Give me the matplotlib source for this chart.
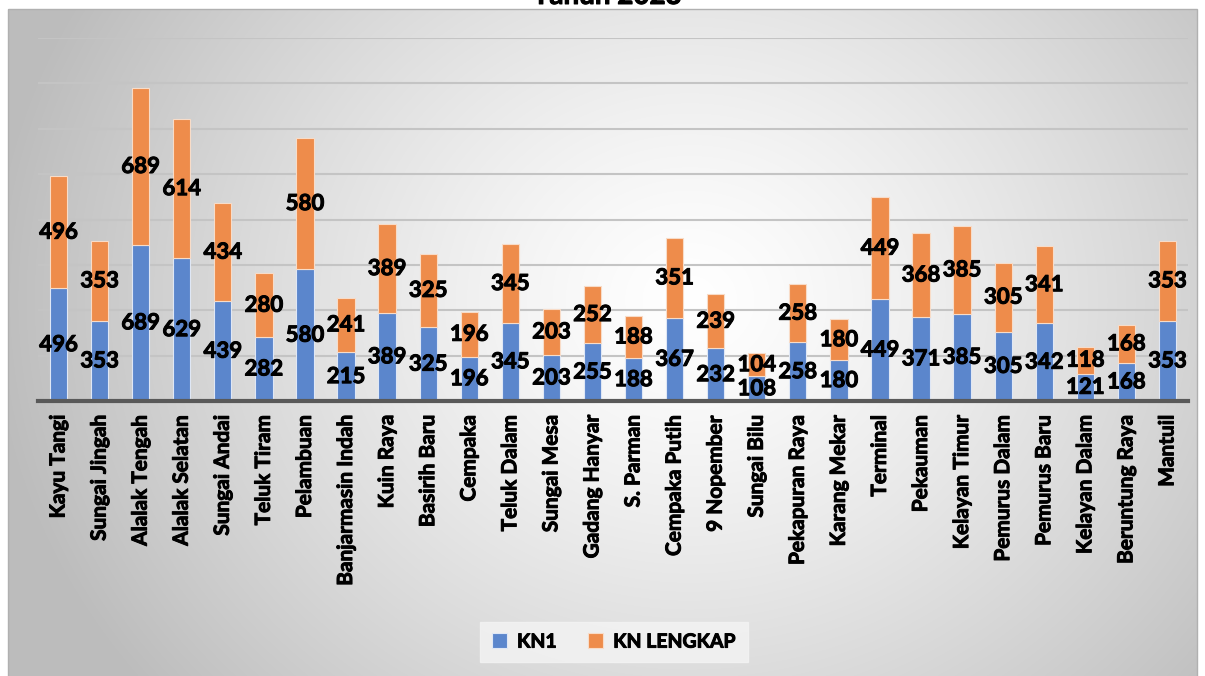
"""
Stacked bar chart: KN1 vs KN LENGKAP per kelurahan, Tahun 2023.
Excel-style look: radial grey gradient panel, labels centred in each segment.
"""

import matplotlib
matplotlib.use("Agg")
import matplotlib.pyplot as plt
import matplotlib.patheffects as pe
import numpy as np
from matplotlib.patches import Rectangle

# -----------------------------------------------------------------------------
# Data
# -----------------------------------------------------------------------------
wilayah = [
    "Kayu Tangi", "Sungai Jingah", "Alalak Tengah", "Alalak Selatan",
    "Sungai Andai", "Teluk Tiram", "Pelambuan", "Banjarmasin Indah",
    "Kuin Raya", "Basirih Baru", "Cempaka", "Teluk Dalam", "Sungai Mesa",
    "Gadang Hanyar", "S. Parman", "Cempaka Putih", "9 Nopember",
    "Sungai Bilu", "Pekapuran Raya", "Karang Mekar", "Terminal",
    "Pekauman", "Kelayan Timur", "Pemurus Dalam", "Pemurus Baru",
    "Kelayan Dalam", "Beruntung Raya", "Mantuil",
]
kn1 = [496, 353, 689, 629, 439, 282, 580, 215, 389, 325, 196, 345, 203,
       255, 188, 367, 232, 108, 258, 180, 449, 371, 385, 305, 342, 121,
       168, 353]
kn_lengkap = [496, 353, 689, 614, 434, 280, 580, 241, 389, 325, 196, 345,
              203, 252, 188, 351, 239, 104, 258, 180, 449, 368, 385, 305,
              341, 118, 168, 353]

series_names = ["KN1", "KN LENGKAP"]
judul = "Tahun 2023"

BLUE = "#5b86cc"
ORANGE = "#ee8c4b"
FONT = ["Lato", "DejaVu Sans"]
# Lato Bold is a bit lighter than the Calibri Bold of the source; thicken it
HEAVY = [pe.withStroke(linewidth=0.7, foreground="black")]

W, H = 1205, 676

plt.rcParams["font.family"] = FONT

fig = plt.figure(figsize=(W / 100, H / 100), dpi=100)
fig.patch.set_facecolor("white")

# --- background panel with radial gradient (pixel coordinates) ---
bg = fig.add_axes([0, 0, 1, 1], zorder=0)
bg.set_xlim(0, W)
bg.set_ylim(H, 0)
bg.axis("off")
px0, px1, py0, py1 = 8, 1197, 9, H + 2
xx, yy = np.meshgrid(np.linspace(px0, px1, 400), np.linspace(py0, py1, 240))
d = np.sqrt(((xx - 690) / 700.0) ** 2 + ((yy - 300) / 620.0) ** 2)
shade = 1.0 - 0.26 * np.clip(d, 0, 1) ** 1.3
bg.imshow(np.dstack([shade, shade, shade]), extent=(px0, px1, py1, py0),
          aspect="auto", interpolation="bilinear")
bg.add_patch(Rectangle((px0, py0), px1 - px0, py1 - py0, fill=False,
                       edgecolor="#b0b0b0", linewidth=1.0))

# title sits mostly above the visible area, as in the source image
fig.text(607 / W, 1 - 4 / H, judul, ha="center", va="baseline",
         fontsize=20, fontweight="bold", color="black", path_effects=HEAVY)

# --- main axes ---
ax = fig.add_axes([38 / W, (H - 401) / H, 1150 / W, 363 / H], zorder=1)
ax.patch.set_alpha(0)

x = np.arange(len(wilayah))
bw = 0.42
b1 = ax.bar(x, kn1, width=bw, color=BLUE, edgecolor="#dfe7f5",
            linewidth=0.8, zorder=3, label=series_names[0])
b2 = ax.bar(x, kn_lengkap, width=bw, bottom=kn1, color=ORANGE,
            edgecolor="#f8dcc8", linewidth=0.8, zorder=3,
            label=series_names[1])

for xi, a, b in zip(x, kn1, kn_lengkap):
    ax.text(xi, a / 2, str(a), ha="center", va="center", fontsize=16,
            fontweight="bold", color="black", zorder=4, path_effects=HEAVY)
    ax.text(xi, a + b / 2, str(b), ha="center", va="center", fontsize=16,
            fontweight="bold", color="black", zorder=4, path_effects=HEAVY)

ax.set_xlim(-0.5, len(wilayah) - 0.5)
ax.set_ylim(0, 1600)
ax.set_yticks(np.arange(0, 1601, 200))
ax.yaxis.grid(True, color="#c4c4c4", linewidth=1.5, zorder=0)
ax.tick_params(axis="y", left=False, labelleft=False)
ax.tick_params(axis="x", length=0, pad=10)
ax.set_xticks(x)
ax.set_xticklabels(wilayah, rotation=90, fontsize=15, fontweight="bold")
for lbl in ax.get_xticklabels():
    lbl.set_path_effects(HEAVY)
for s in ["top", "right", "left"]:
    ax.spines[s].set_visible(False)
ax.spines["bottom"].set_color("#595959")
ax.spines["bottom"].set_linewidth(3)
ax.spines["bottom"].set_zorder(5)

leg = fig.legend(handles=[b1, b2], loc="center", bbox_to_anchor=(614 / W, 1 - 642 / H),
                 ncol=2, frameon=True, fancybox=False,
                 prop={"weight": "bold", "size": 14}, handlelength=0.8,
                 handleheight=0.8, columnspacing=1.6, handletextpad=0.5,
                 borderpad=0.6)
leg.get_frame().set_facecolor("#f4f4f4")
leg.get_frame().set_edgecolor("#f4f4f4")
for t in leg.get_texts():
    t.set_path_effects(HEAVY)

fig.savefig("out.png", dpi=100)
